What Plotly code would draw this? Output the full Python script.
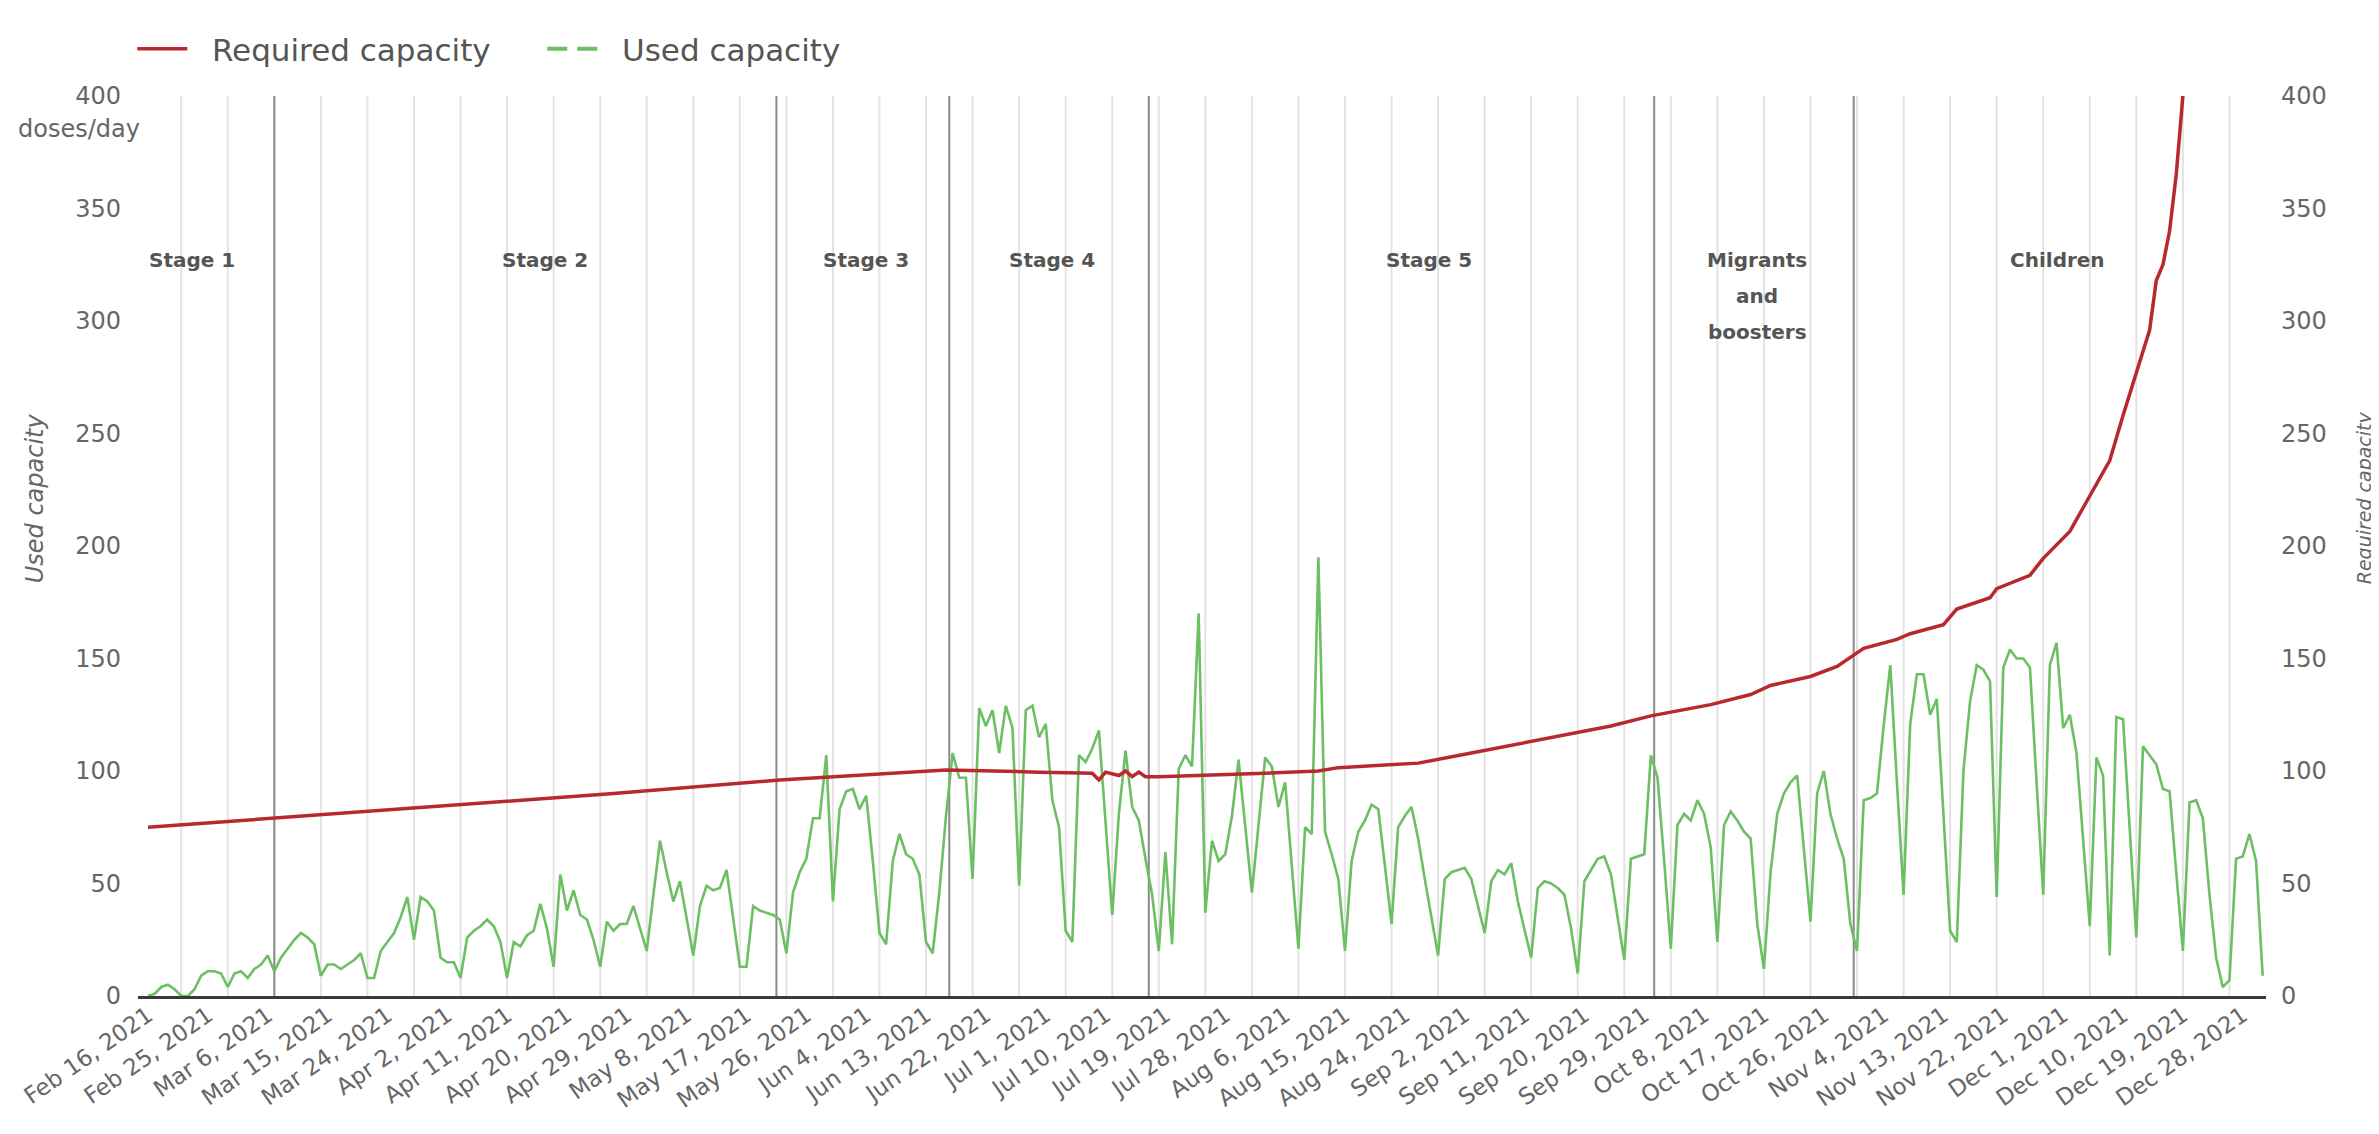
import pandas as pd
import plotly.graph_objects as go

FONT = "DejaVu Sans"

# ---------------- data ----------------
start_date = "2021-02-16"
used_capacity = [
    0, 1, 4, 5, 3, 0, 0,
    3, 9, 11, 11, 10, 4, 10,
    11, 8, 12, 14, 18, 11, 17,
    21, 25, 28, 26, 23, 9, 14,
    14, 12, 14, 16, 19, 8, 8,
    20, 24, 28, 35, 44, 25, 44,
    42, 38, 17, 15, 15, 8, 26,
    29, 31, 34, 31, 24, 8, 24,
    22, 27, 29, 41, 30, 13, 54,
    38, 47, 36, 34, 25, 13, 33,
    29, 32, 32, 40, 30, 20, 45,
    69, 55, 42, 51, 35, 18, 40,
    49, 47, 48, 56, 35, 13, 13,
    40, 38, 37, 36, 34, 19, 46,
    55, 61, 79, 79, 107, 42, 83,
    91, 92, 83, 89, 60, 28, 23,
    60, 72, 63, 61, 54, 24, 19,
    46, 80, 108, 97, 97, 52, 128,
    120, 127, 108, 129, 119, 49, 127,
    129, 115, 121, 87, 75, 29, 24,
    107, 104, 110, 118, 77, 36, 81,
    109, 84, 78, 61, 45, 20, 64,
    23, 101, 107, 102, 170, 37, 69,
    60, 63, 80, 105, 75, 46, 76,
    106, 102, 84, 95, 58, 21, 75,
    72, 195, 73, 63, 52, 20, 60,
    73, 78, 85, 83, 58, 32, 75,
    80, 84, 70, 52, 35, 18, 52,
    55, 56, 57, 52, 40, 28, 51,
    56, 54, 59, 42, 30, 17, 48,
    51, 50, 48, 45, 30, 10, 51,
    56, 61, 62, 54, 35, 16, 61,
    62, 63, 107, 97, 60, 21, 76,
    81, 78, 87, 81, 66, 24, 76,
    82, 78, 73, 70, 32, 12, 55,
    81, 90, 95, 98, 65, 33, 90,
    100, 81, 70, 61, 32, 20, 87,
    88, 90, 120, 147, 95, 45, 121,
    143, 143, 125, 132, 80, 29, 24,
    100, 131, 147, 145, 140, 44, 146,
    154, 150, 150, 146, 95, 45, 147,
    157, 119, 125, 108, 70, 31, 106,
    98, 18, 124, 123, 75, 26, 111,
    107, 103, 92, 91, 55, 20, 86,
    87, 79, 45, 17, 4, 7, 61,
    62, 72, 60, 9,
]
used_dates = pd.date_range(start_date, periods=len(used_capacity), freq="D")

required_dates = [
    "2021-02-16", "2021-03-07", "2021-04-04", "2021-04-27", "2021-05-22",
    "2021-06-03", "2021-06-16", "2021-06-30", "2021-07-08", "2021-07-09",
    "2021-07-10", "2021-07-12", "2021-07-13", "2021-07-14", "2021-07-15",
    "2021-07-16", "2021-07-18", "2021-08-03", "2021-08-11", "2021-08-14",
    "2021-08-26", "2021-09-03", "2021-09-11", "2021-09-16", "2021-09-24",
    "2021-09-30", "2021-10-09", "2021-10-15", "2021-10-18", "2021-10-24",
    "2021-10-28", "2021-11-01", "2021-11-06", "2021-11-08", "2021-11-13",
    "2021-11-15", "2021-11-20", "2021-11-21", "2021-11-26", "2021-11-28",
    "2021-12-02", "2021-12-04", "2021-12-08", "2021-12-10", "2021-12-12",
    "2021-12-14", "2021-12-15", "2021-12-16", "2021-12-17", "2021-12-18",
    "2021-12-19", "2021-12-20",
]
required_capacity = [
    75, 79, 85, 90, 96,
    98, 100.5, 99.5, 99, 96,
    99.5, 98, 100, 97.5, 99.5,
    97.5, 97.5, 99, 100, 101.5,
    103.5, 108, 112.5, 115.5, 120,
    124.5, 129.5, 134, 138, 142,
    146.5, 154.5, 158.5, 161, 165,
    172, 177, 181, 187, 194.5,
    206.5, 217, 238, 258, 277,
    296, 318, 325, 340, 365,
    400, 440,
]

tick_start = "2021-02-16"
tick_step_days = 9
tick_format = "%b %-d, %Y"
x_range = ["2021-02-14 12:00", "2021-12-31 12:00"]
y_range = [0, 400]
y_tick_step = 50

week_lines = pd.date_range("2021-02-21", "2021-12-31", freq="7D")

stage_boundaries = [
    "2021-03-07", "2021-05-21 12:00", "2021-06-16 12:00",
    "2021-07-16 12:00", "2021-09-30 12:00", "2021-10-30 12:00",
]
stage_names = [
    ["Stage 1"], ["Stage 2"], ["Stage 3"], ["Stage 4"], ["Stage 5"],
    ["Migrants", "and", "boosters"], ["Children"],
]
stage_name_x = [
    "2021-02-22 14:00", "2021-04-16 17:00", "2021-06-04", "2021-07-02",
    "2021-08-27 14:00", "2021-10-16", "2021-11-30 05:00",
]
stage_name_y = 327
stage_line_step = 16

# ---------------- figure ----------------
RED = "#b8292f"
GREEN = "#6cbf62"
GRAY_TXT = "#666666"
NBSP = "\u00a0"

fig = go.Figure()

fig.add_trace(go.Scatter(
    x=used_dates, y=used_capacity, mode="lines", name="Used capacity",
    line=dict(color=GREEN, width=2.6), showlegend=False, yaxis="y",
))
fig.add_trace(go.Scatter(
    x=[None], y=[None], mode="lines", name=NBSP * 2 + "Used capacity",
    line=dict(color=GREEN, width=4, dash="20px,10px"), legendrank=2, yaxis="y",
))
fig.add_trace(go.Scatter(
    x=required_dates, y=required_capacity, mode="lines",
    name=NBSP * 2 + "Required capacity",
    line=dict(color=RED, width=3.5), legendrank=1, yaxis="y2",
))

shapes = []
for d in week_lines:
    shapes.append(dict(type="line", xref="x", yref="paper", x0=d, x1=d, y0=0, y1=1,
                       line=dict(color="#e3e3e3", width=2), layer="below"))
for d in stage_boundaries:
    shapes.append(dict(type="line", xref="x", yref="paper", x0=d, x1=d, y0=0, y1=1,
                       line=dict(color="#8a8a8a", width=2), layer="below"))

annotations = []
for lines, xpos in zip(stage_names, stage_name_x):
    for i, txt in enumerate(lines):
        annotations.append(dict(
            x=xpos, y=stage_name_y - i * stage_line_step, xref="x", yref="y",
            text=txt, showarrow=False,
            font=dict(family=FONT, size=20, color="#555555", weight="bold"),
        ))

annotations.append(dict(
    x=0, y=(988 - 121) / 900, xref="paper", yref="paper", text="doses/day",
    showarrow=False, xanchor="right", yanchor="middle", xshift=4,
    font=dict(family=FONT, size=24, color=GRAY_TXT),
))
annotations.append(dict(
    x=(27 - 130) / 2128, y=0.553, xref="paper", yref="paper", text="<i>Used capacity</i>",
    showarrow=False, textangle=-90, xanchor="center", yanchor="middle",
    font=dict(family=FONT, size=24, color=GRAY_TXT),
))
annotations.append(dict(
    x=(2356 - 130) / 2128, y=0.553, xref="paper", yref="paper", text="<i>Required capacity</i>",
    showarrow=False, textangle=-90, xanchor="center", yanchor="middle",
    font=dict(family=FONT, size=19, color=GRAY_TXT),
))

y_ticks = list(range(y_range[0], y_range[1] + 1, y_tick_step))

fig.update_layout(
    width=2379, height=1134,
    margin=dict(l=130, r=121, t=88, b=146, autoexpand=False),
    paper_bgcolor="white", plot_bgcolor="white",
    font=dict(family=FONT, color=GRAY_TXT),
    showlegend=True,
    legend=dict(orientation="h", x=-0.0027, xanchor="left", y=1.052, yanchor="middle",
                font=dict(family=FONT, size=31, color="#555555"),
                bgcolor="rgba(0,0,0,0)", itemwidth=50, traceorder="normal",
                entrywidth=345, entrywidthmode="pixels"),
    xaxis=dict(
        type="date", range=x_range, tickmode="linear", tick0=tick_start,
        dtick=tick_step_days * 86400000, tickformat=tick_format, tickangle=-35,
        showgrid=False, zeroline=False, showline=True, linecolor="#3a3a3a", linewidth=3,
        ticks="", ticklabelstandoff=-6, ticklabeloverflow="allow",
        tickfont=dict(family=FONT, size=23, color=GRAY_TXT),
    ),
    yaxis=dict(
        range=y_range, tickmode="array", tickvals=y_ticks, showgrid=False, zeroline=False,
        showline=False, ticks="", ticklabelstandoff=16,
        tickfont=dict(family=FONT, size=24, color=GRAY_TXT),
    ),
    yaxis2=dict(
        range=y_range, tickmode="array", tickvals=y_ticks, overlaying="y", side="right",
        showgrid=False, zeroline=False, showline=False, ticks="", ticklabelstandoff=14,
        tickfont=dict(family=FONT, size=24, color=GRAY_TXT),
    ),
    shapes=shapes,
    annotations=annotations,
)

fig.write_html("out.html")
